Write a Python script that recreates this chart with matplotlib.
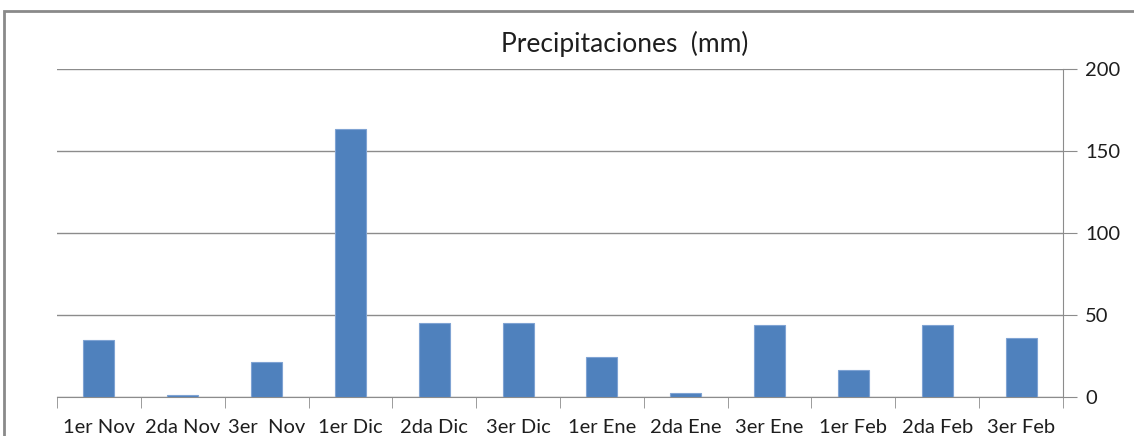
import matplotlib
matplotlib.use("Agg")
import matplotlib.pyplot as plt
from matplotlib.patches import Rectangle
import numpy as np

plt.rcParams["font.family"] = ["Lato", "DejaVu Sans"]

# Precipitation per ten-day period (mm)
periodos = ["1er Nov", "2da Nov", "3er  Nov", "1er Dic", "2da Dic", "3er Dic",
            "1er Ene", "2da Ene", "3er Ene", "1er Feb", "2da Feb", "3er Feb"]
lluvia_mm = [34.6, 1.5, 21.2, 163.7, 45.4, 45.4, 24.2, 2.2, 43.9, 16.5, 43.9, 36.0]
y_ticks = [0, 50, 100, 150, 200]

BAR = "#4F81BD"
GRID = "#8C8C8C"
INK = "#1E1E1E"

W, H = 1134, 436
fig = plt.figure(figsize=(W / 100, H / 100), dpi=100)

# chart-area frame (runs off the right and bottom edges)
fig.patches.append(Rectangle((4 / W, -0.1), 1.2, 1 - 11 / H + 0.1,
                             transform=fig.transFigure, fill=False,
                             edgecolor="#8A8A8A", linewidth=2.0))

ax = fig.add_axes([57 / W, 1 - 397 / H, (1063 - 57) / W, (397 - 69) / H])
x = np.arange(len(periodos))
ax.bar(x, lluvia_mm, width=0.37, color=BAR, edgecolor="#7FA3D3",
       linewidth=0.8, zorder=3)

ax.set_xlim(-0.5, len(periodos) - 0.5)
ax.set_ylim(0, 200)
ax.yaxis.tick_right()
ax.set_yticks(y_ticks)
ax.set_yticklabels([str(v) for v in y_ticks], fontsize=14.5, color=INK)
ax.tick_params(axis="y", length=10, color=GRID, pad=6)
ax.grid(axis="y", color=GRID, linewidth=1.0, zorder=0)

# category labels centred, ticks at boundaries
ax.set_xticks(x)
ax.set_xticklabels(periodos, fontsize=14.5, color=INK)
ax.tick_params(axis="x", length=0, pad=16)
ax.set_xticks(np.arange(-0.5, len(periodos)), minor=True)
ax.tick_params(axis="x", which="minor", length=8, color=GRID)

for side in ("top", "left"):
    ax.spines[side].set_visible(False)
ax.spines["right"].set_color(GRID)
ax.spines["bottom"].set_color(GRID)

fig.text(625 / W, 1 - 44 / H, "Precipitaciones  (mm)", ha="center",
         va="center", fontsize=19, color=INK)

fig.savefig("out.png", dpi=100)
